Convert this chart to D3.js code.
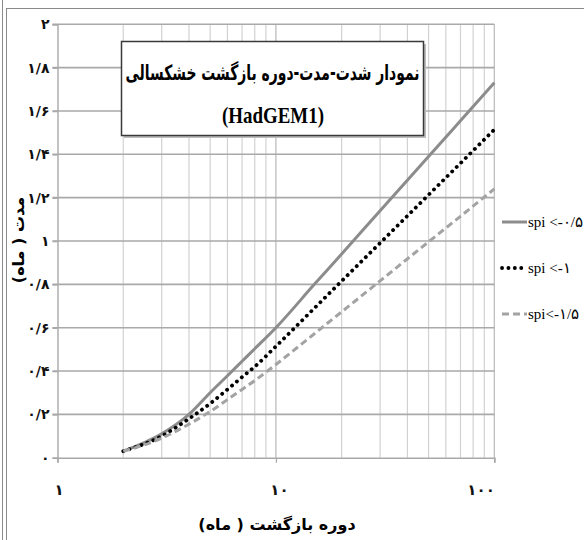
<!DOCTYPE html>
<html><head><meta charset="utf-8">
<script src="https://cdn.jsdelivr.net/npm/d3@7"></script>
<style>
html,body{margin:0;padding:0;background:#fff;overflow:hidden;}
svg{display:block;}
</style></head>
<body>
<svg id="c" width="584" height="540"></svg>
<script>
// ---- data ----
const returnPeriod = [2, 3, 4, 5, 6, 7, 8, 10, 15, 20, 30, 50, 70, 100];
const spiMinus05 = [0.03, 0.11, 0.20, 0.30, 0.378, 0.445, 0.503, 0.60, 0.80, 0.94, 1.14, 1.39, 1.555, 1.73];
const spiMinus1  = [0.03, 0.10, 0.18, 0.25, 0.315, 0.372, 0.42, 0.514, 0.69, 0.815, 0.991, 1.213, 1.359, 1.514];
const spiMinus15 = [0.03, 0.09, 0.155, 0.213, 0.268, 0.315, 0.356, 0.43, 0.572, 0.673, 0.816, 0.996, 1.114, 1.24];
const seriesNames = ["spi <-۰/۵", "spi  <-۱", "spi<-۱/۵"];
const xTicks = [1, 10, 100];
const yTicks = [0, 0.2, 0.4, 0.6, 0.8, 1, 1.2, 1.4, 1.6, 1.8, 2];
const titleLine1 = "نمودار شدت-مدت-دوره بازگشت خشکسالی";
const titleLine2 = "(HadGEM1)";
const xTitle = "دوره بازگشت ( ماه)";
const yTitle = "مدت ( ماه)";

const fa = s => String(s).replace(/[0-9]/g, d => "۰۱۲۳۴۵۶۷۸۹"[+d]).replace(/\./g, "/");

const svg = d3.select("#c");
const x = d3.scaleLog().domain([1, 100]).range([57.5, 494.3]);
const y = d3.scaleLinear().domain([0, 2]).range([457.7, 24.3]);

// outer frame
svg.append("line").attr("x1", 2.5).attr("x2", 2.5).attr("y1", 0).attr("y2", 540)
  .attr("stroke", "#8a8a8a").attr("stroke-width", 1);
svg.append("rect").attr("x", 6.5).attr("y", 8.5).attr("width", 600).attr("height", 600)
  .attr("fill", "none").attr("stroke", "#8a8a8a").attr("stroke-width", 1);

// vertical minor gridlines
const vgrid = [];
[1, 10].forEach(dec => { for (let k = 2; k <= 10; k++) vgrid.push(dec * k); });
svg.append("g").selectAll("line").data(vgrid).join("line")
  .attr("x1", d => x(d)).attr("x2", d => x(d))
  .attr("y1", y(2)).attr("y2", y(0))
  .attr("stroke", d => (d === 10 || d === 100) ? "#b8b8b8" : "#d2d2d2")
  .attr("stroke-width", 1.2);

// horizontal gridlines (with outward tick)
svg.append("g").selectAll("line").data(yTicks.filter(d => d > 0)).join("line")
  .attr("x1", x(1) - 5).attr("x2", x(100))
  .attr("y1", d => y(d)).attr("y2", d => y(d))
  .attr("stroke", "#a9a9a9").attr("stroke-width", 1.6);

// y axis
const yAxis = d3.axisLeft(y).tickValues(yTicks).tickSize(5).tickPadding(3)
  .tickFormat(d => fa(+d.toFixed(1)));
const gy = svg.append("g").attr("transform", `translate(${x(1)},0)`).call(yAxis);
gy.select(".domain").attr("stroke", "#a9a9a9").attr("stroke-width", 1.4);
gy.selectAll(".tick line").attr("stroke", "#a9a9a9").attr("stroke-width", 1.6);
gy.selectAll(".tick text").attr("font-family", "DejaVu Sans").attr("font-weight", "bold")
  .attr("font-size", 14).attr("fill", "#111");

// x axis
const xAxis = d3.axisBottom(x).tickValues(xTicks).tickSize(5).tickPadding(0).tickFormat(d => fa(d));
const gx = svg.append("g").attr("transform", `translate(0,${y(0)})`).call(xAxis);
gx.select(".domain").attr("stroke", "#a9a9a9").attr("stroke-width", 1.6);
gx.selectAll(".tick line").attr("stroke", "#a9a9a9").attr("stroke-width", 1.2);
gx.selectAll(".tick text").attr("font-family", "DejaVu Sans").attr("font-weight", "bold")
  .attr("font-size", 15).attr("fill", "#111").attr("dy", 0).attr("y", 37)
  .attr("text-anchor", (d, i) => i === 2 ? "end" : "middle")
  .attr("dx", (d, i) => i === 0 ? 1 : (i === 1 ? 3 : 0));

// series
const line = d3.line().x(d => x(d[0])).y(d => y(d[1])).curve(d3.curveMonotoneX);
const series = [
  {vals: spiMinus05, stroke: "#8c8c8c", width: 3, dash: null, cap: "butt"},
  {vals: spiMinus1, stroke: "#000", width: 3.8, dash: "0.1,6.3", cap: "round"},
  {vals: spiMinus15, stroke: "#a3a3a3", width: 3, dash: "7,4", cap: "butt"}
];
series.forEach(s => {
  svg.append("path").datum(returnPeriod.map((r, i) => [r, s.vals[i]]))
    .attr("d", line).attr("fill", "none").attr("stroke", s.stroke)
    .attr("stroke-width", s.width).attr("stroke-dasharray", s.dash)
    .attr("stroke-linecap", s.cap);
});

// title box
svg.append("rect").attr("x", 124).attr("y", 44).attr("width", 302).attr("height", 94)
  .attr("fill", "#bdbdbd");
svg.append("rect").attr("x", 121.5).attr("y", 41.5).attr("width", 302).attr("height", 94)
  .attr("fill", "#fff").attr("stroke", "#3a3a3a").attr("stroke-width", 1.5);
svg.append("text").attr("x", 272.5).attr("y", 80).attr("text-anchor", "middle")
  .attr("font-family", "DejaVu Sans").attr("font-weight", "bold").attr("font-size", 21)
  .attr("direction", "rtl").attr("textLength", 294).attr("lengthAdjust", "spacingAndGlyphs")
  .attr("fill", "#000").text(titleLine1);
svg.append("text").attr("x", 273).attr("y", 123).attr("text-anchor", "middle")
  .attr("font-family", "Liberation Serif").attr("font-weight", "bold").attr("font-size", 23)
  .attr("textLength", 102).attr("lengthAdjust", "spacingAndGlyphs")
  .attr("fill", "#000").text(titleLine2);

// axis titles
svg.append("text").attr("x", 277).attr("y", 530).attr("text-anchor", "middle")
  .attr("font-family", "DejaVu Sans").attr("font-weight", "bold").attr("font-size", 16)
  .attr("direction", "rtl").attr("fill", "#000").text(xTitle);
svg.append("text").attr("transform", "translate(24,240) rotate(-90)").attr("text-anchor", "middle")
  .attr("font-family", "DejaVu Sans").attr("font-weight", "bold").attr("font-size", 16)
  .attr("direction", "rtl").attr("fill", "#000").text(yTitle);

// legend
const legY = [222, 268, 314];
series.forEach((s, i) => {
  svg.append("line").attr("x1", 502).attr("x2", 527).attr("y1", legY[i]).attr("y2", legY[i])
    .attr("stroke", s.stroke).attr("stroke-width", s.width).attr("stroke-dasharray", s.dash)
    .attr("stroke-linecap", s.cap);
  svg.append("text").attr("x", 528).attr("y", legY[i] + 5)
    .attr("font-family", "Liberation Serif").attr("font-size", 15).attr("fill", "#000")
    .attr("direction", "ltr").style("unicode-bidi", "bidi-override").text(seriesNames[i]);
});
</script>
</body></html>
